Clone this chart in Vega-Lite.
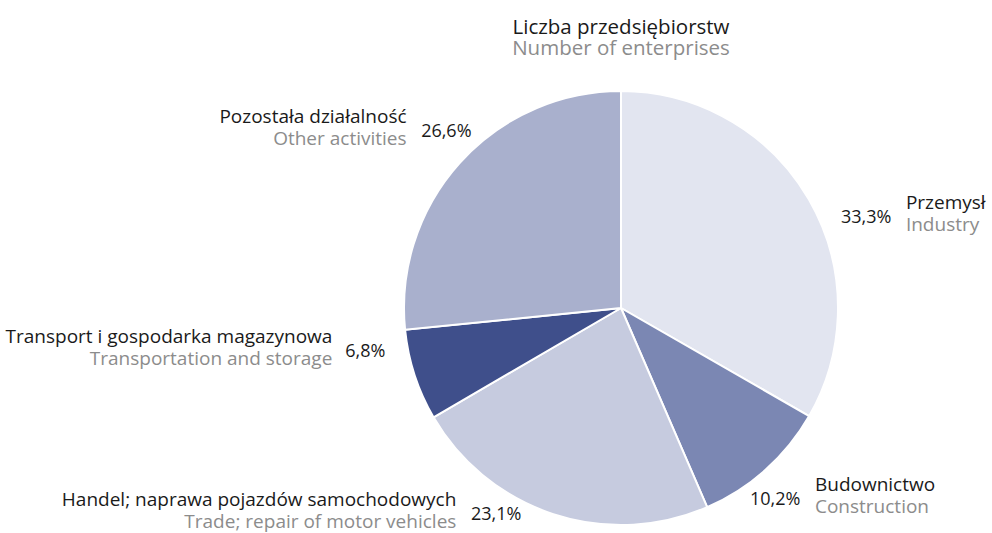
{
  "$schema": "https://vega.github.io/schema/vega-lite/v6.json",
  "width": 434,
  "height": 434,
  "autosize": "none",
  "padding": {"left": 404, "top": 91, "right": 154, "bottom": 8},
  "background": "white",
  "config": {"view": {"stroke": null}, "font": "Open Sans"},
  "title": {
    "text": "Liczba przedsiębiorstw",
    "subtitle": "Number of enterprises",
    "anchor": "middle",
    "frame": "group",
    "font": "Open Sans",
    "fontSize": 20.5,
    "fontWeight": "normal",
    "color": "#1a1a1a",
    "subtitleFont": "Open Sans",
    "subtitleFontSize": 20.5,
    "subtitleColor": "#8c8c8c",
    "subtitlePadding": 0,
    "offset": 28
  },
  "data": {
    "values": [
      {"pl": "Przemysł", "en": "Industry", "share": 33.3, "order": 1},
      {"pl": "Budownictwo", "en": "Construction", "share": 10.2, "order": 2},
      {"pl": "Handel; naprawa pojazdów samochodowych", "en": "Trade; repair of motor vehicles", "share": 23.1, "order": 3},
      {"pl": "Transport i gospodarka magazynowa", "en": "Transportation and storage", "share": 6.8, "order": 4},
      {"pl": "Pozostała działalność", "en": "Other activities", "share": 26.6, "order": 5}
    ]
  },
  "transform": [
    {"window": [{"op": "sum", "field": "share", "as": "cum"}], "sort": [{"field": "order"}], "frame": [null, 0]},
    {"calculate": "datum.cum - datum.share / 2", "as": "mid"},
    {"calculate": "replace(format(datum.share, '.1f'), '.', ',') + '%'", "as": "label"}
  ],
  "layer": [
    {
      "mark": {"type": "arc", "outerRadius": 217, "stroke": "white", "strokeWidth": 2},
      "encoding": {
        "theta": {"field": "share", "type": "quantitative", "stack": true},
        "order": {"field": "order", "type": "quantitative"},
        "color": {
          "field": "pl",
          "type": "nominal",
          "scale": {
            "domain": ["Przemysł", "Budownictwo", "Handel; naprawa pojazdów samochodowych", "Transport i gospodarka magazynowa", "Pozostała działalność"],
            "range": ["#e2e5f0", "#7b87b3", "#c6cbdf", "#3f4f8b", "#a9b0cd"]
          },
          "legend": null
        }
      }
    },
    {
      "mark": {
        "type": "text",
        "radius": {"expr": "240*226/sqrt(pow(226*sin(0.134+datum.mid*PI/50),2)+pow(240*cos(0.134+datum.mid*PI/50),2))"},
        "fontSize": 18,
        "color": "#1a1a1a",
        "baseline": "alphabetic",
        "dy": 6,
        "align": {"expr": "datum.mid < 50 ? 'left' : 'right'"}
      },
      "encoding": {
        "theta": {"field": "mid", "type": "quantitative", "stack": null, "scale": {"domain": [0, 100], "range": [0.134, 6.4172]}},
        "text": {"field": "label"}
      }
    },
    {
      "mark": {
        "type": "text",
        "radius": {"expr": "240*226/sqrt(pow(226*sin(0.134+datum.mid*PI/50),2)+pow(240*cos(0.134+datum.mid*PI/50),2))"},
        "fontSize": 19,
        "color": "#1a1a1a",
        "baseline": "alphabetic",
        "dy": -8,
        "dx": {"expr": "datum.mid < 50 ? 65 : (length(datum.label) == 4 ? -53 : -65)"},
        "align": {"expr": "datum.mid < 50 ? 'left' : 'right'"}
      },
      "encoding": {
        "theta": {"field": "mid", "type": "quantitative", "stack": null, "scale": {"domain": [0, 100], "range": [0.134, 6.4172]}},
        "text": {"field": "pl"}
      }
    },
    {
      "mark": {
        "type": "text",
        "radius": {"expr": "240*226/sqrt(pow(226*sin(0.134+datum.mid*PI/50),2)+pow(240*cos(0.134+datum.mid*PI/50),2))"},
        "fontSize": 19,
        "color": "#8c8c8c",
        "baseline": "alphabetic",
        "dy": 14,
        "dx": {"expr": "datum.mid < 50 ? 65 : (length(datum.label) == 4 ? -53 : -65)"},
        "align": {"expr": "datum.mid < 50 ? 'left' : 'right'"}
      },
      "encoding": {
        "theta": {"field": "mid", "type": "quantitative", "stack": null, "scale": {"domain": [0, 100], "range": [0.134, 6.4172]}},
        "text": {"field": "en"}
      }
    }
  ],
  "resolve": {"scale": {"theta": "independent"}}
}
